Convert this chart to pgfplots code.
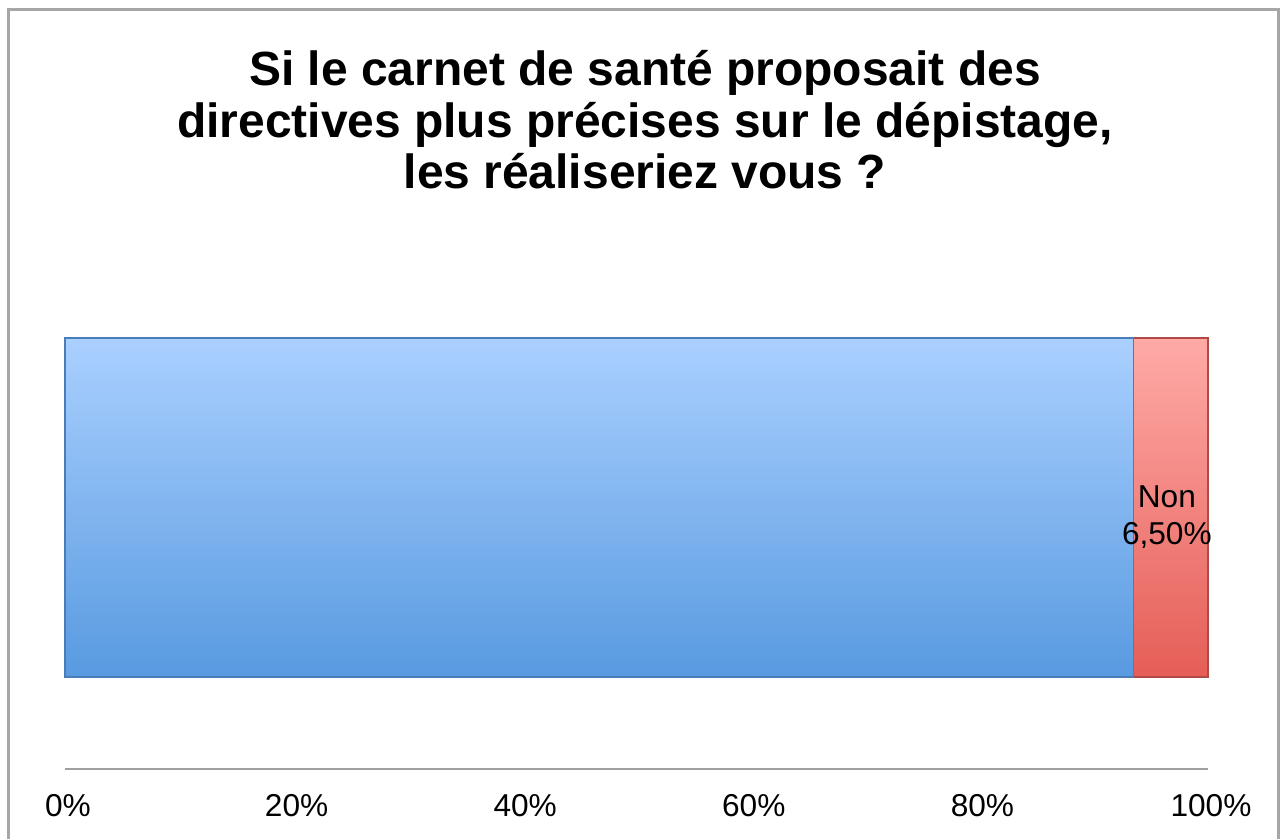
\documentclass[border=0pt]{standalone}
\usepackage{fontspec}
\setmainfont{Liberation Sans}
\usepackage{pgfplots}
\pgfplotsset{compat=1.18}
\definecolor{framegray}{HTML}{A6A6A6}
\definecolor{axgray}{HTML}{A0A0A0}
\definecolor{bluetop}{HTML}{AAD0FF}
\definecolor{bluebot}{HTML}{589AE0}
\definecolor{blueedge}{HTML}{4A7DB8}
\definecolor{redtop}{HTML}{FFAAA7}
\definecolor{redbot}{HTML}{E55E57}
\definecolor{rededge}{HTML}{B04A44}
\begin{document}
\begin{tikzpicture}
\useasboundingbox (0,0) rectangle (12.82cm,8.39cm);
\draw[framegray, line width=0.7pt] (0.085cm,0) -- (0.085cm,8.295cm) -- (12.785cm,8.295cm) -- (12.785cm,0);
\node[font=\fontsize{13.65}{16}\selectfont\bfseries, anchor=base, inner sep=0] at (6.45cm,7.54cm) {Si le carnet de santé proposait des};
\node[font=\fontsize{13.65}{16}\selectfont\bfseries, anchor=base, inner sep=0] at (6.45cm,7.02cm) {directives plus précises sur le dépistage,};
\node[font=\fontsize{13.65}{16}\selectfont\bfseries, anchor=base, inner sep=0] at (6.45cm,6.51cm) {les réaliseriez vous ?};
\begin{axis}[
  at={(0.65cm,0.70cm)}, anchor=south west,
  scale only axis, width=11.43cm, height=5.23cm,
  xmin=0, xmax=100, ymin=-1, ymax=1,
  xbar stacked, bar width=3.39cm,
  axis x line*=bottom, axis y line=none,
  x axis line style={draw=axgray, line width=0.6pt},
  xtick={0,20,40,60,80,100},
  xticklabels={0\%,20\%,40\%,60\%,80\%,100\%},
  major tick length=0pt,
  ytick=\empty,
  xticklabel style={anchor=base, xshift=0.03cm, yshift=-0.47cm, inner sep=0pt, font=\fontsize{9}{11}\selectfont},
  /pgf/number format/assume math mode=true,
  clip=false,
]
\addplot[draw=blueedge, line width=0.3pt, top color=bluetop, bottom color=bluebot] coordinates {(93.5,0)};
\addplot[draw=rededge, line width=0.3pt, top color=redtop, bottom color=redbot,
  nodes near coords={Non\\6,50\%},
  every node near coord/.append style={anchor=center, align=center, inner sep=0pt,
    xshift=-0.04cm, yshift=-0.10cm, text=black, font=\fontsize{9}{10.5}\selectfont}] coordinates {(6.5,0)};
\end{axis}
\end{tikzpicture}
\end{document}
